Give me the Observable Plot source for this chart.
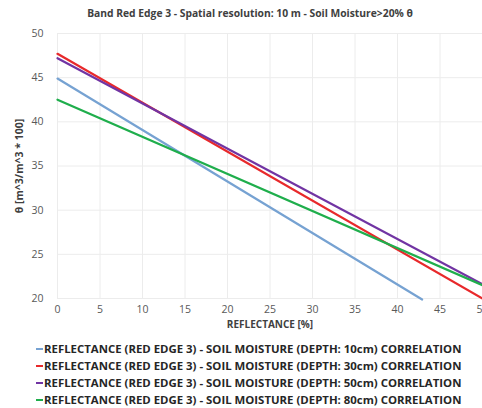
<!DOCTYPE html>
<html>
<head>
<meta charset="utf-8">
<script src="https://cdn.jsdelivr.net/npm/d3@7"></script>
<script src="https://cdn.jsdelivr.net/npm/@observablehq/plot@0.6"></script>
<style>
  html, body { margin: 0; padding: 0; background: #fff; }
  #wrap { position: relative; width: 482px; height: 408px; overflow: hidden; font-family: "Open Sans", "Liberation Sans", sans-serif; }
  #title { position: absolute; left: 0; width: 500px; top: 6px; text-align: center; font-size: 10.3px; font-weight: bold; color: #404040; white-space: nowrap; }
  #chart { position: absolute; left: 0; top: 0; width: 500px; }
  #chart svg { max-width: none !important; }
  #legend { position: absolute; left: 36px; top: 340px; font-size: 11.4px; font-weight: bold; color: #262626; }
  .row { height: 17px; line-height: 17px; white-space: nowrap; display: flex; align-items: center; }
  .sw { display: inline-block; width: 7px; height: 2px; margin-right: 1px; }
</style>
</head>
<body>
<div id="wrap">
  <div id="chart"></div>
  <div id="title">Band Red Edge 3 - Spatial resolution: 10 m - Soil Moisture&gt;20% θ</div>
  <div id="legend"></div>
</div>
<script>
// Linear correlation lines: theta = intercept + slope * reflectance
const depths = ["10cm", "30cm", "50cm", "80cm"];
const intercepts = [44.9, 47.7, 47.2, 42.5];
const slopes = [-0.583, -0.554, -0.512, -0.42];
const xEnds = [42.9, 50, 50, 50];
const colors = ["#76a2d2", "#e8292b", "#7134a3", "#1fae4c"];
const xTicks = [0, 5, 10, 15, 20, 25, 30, 35, 40, 45, 50];
const yTicks = [20, 25, 30, 35, 40, 45, 50];

const labels = depths.map(d => `REFLECTANCE (RED EDGE 3) - SOIL MOISTURE (DEPTH: ${d}) CORRELATION`);

// Each correlation line is defined by its two endpoints
const rows = depths.flatMap((d, i) => [0, xEnds[i]].map(x => ({
  series: labels[i], x, y: intercepts[i] + slopes[i] * x
})));

const plot = Plot.plot({
  width: 500,
  height: 340,
  marginTop: 33,
  marginLeft: 57,
  marginRight: 18,
  marginBottom: 42,
  style: { fontFamily: "'Open Sans', 'Liberation Sans', sans-serif", fontSize: "10.5px", color: "#595959", maxWidth: "none" },
  x: { domain: [0, 50], label: null },
  y: { domain: [20, 50], label: null },
  color: { domain: labels, range: colors },
  marks: [
    Plot.gridX(xTicks, { stroke: "#ececec", strokeOpacity: 1 }),
    Plot.gridY(yTicks, { stroke: "#ececec", strokeOpacity: 1 }),
    Plot.axisX({ ticks: xTicks, tickSize: 0, tickPadding: 7, fill: "#595959" }),
    Plot.axisY({ ticks: yTicks, tickSize: 0, tickPadding: 14, fill: "#595959" }),
    Plot.line(rows, { x: "x", y: "y", stroke: "series", strokeWidth: 2.2 }),
    Plot.text(["REFLECTANCE [%]"], { frameAnchor: "bottom", dy: 29, fontWeight: "bold", fill: "#404040", fontSize: 10 }),
    Plot.text(["θ [m^3/m^3 * 100]"], { frameAnchor: "left", textAnchor: "middle", dx: -38, rotate: -90, fontWeight: "bold", fill: "#404040", fontSize: 10.5 })
  ]
});
document.getElementById("chart").append(plot);

// Legend rows below the chart
const legend = d3.select("#legend");
labels.forEach((l, i) => {
  const row = legend.append("div").attr("class", "row");
  row.append("span").attr("class", "sw").style("background", colors[i]);
  row.append("span").text(l);
});
</script>
</body>
</html>
